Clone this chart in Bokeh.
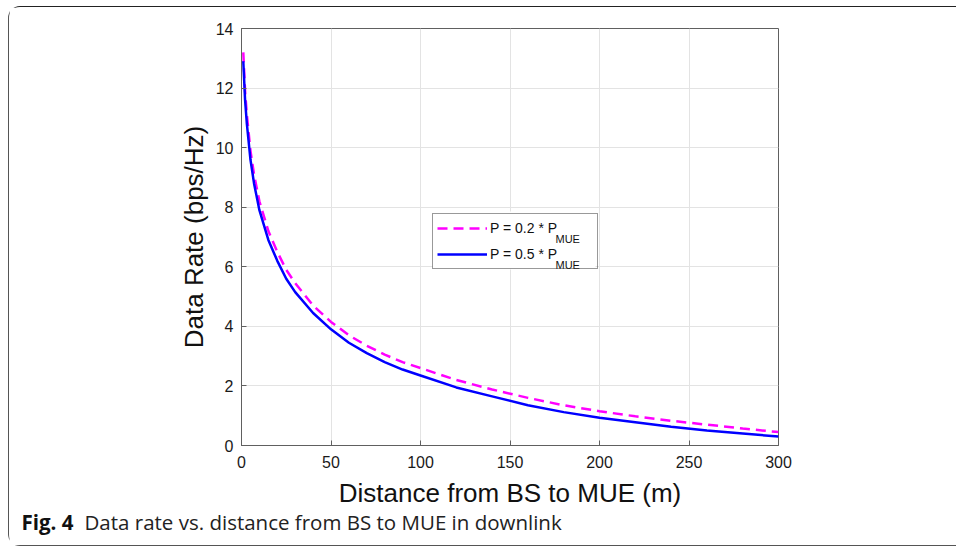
from bokeh.plotting import figure
from bokeh.layouts import column, row
from bokeh.models import (FixedTicker, Range1d, Legend, LegendItem, Label,
                          BoxAnnotation)
from bokeh.embed import file_html
from bokeh.resources import INLINE

# ---- data ----
distance = [1, 2, 3, 5, 7, 10, 15, 20, 25, 30, 40, 50, 60, 70, 80, 90, 100,
            120, 140, 160, 180, 200, 220, 240, 260, 280, 300]
rate_p02 = [13.2, 11.9, 11.1, 9.9, 9.1, 8.2, 7.2, 6.5, 5.9, 5.45, 4.7, 4.15,
            3.7, 3.35, 3.05, 2.8, 2.6, 2.2, 1.88, 1.6, 1.35, 1.15, 0.98,
            0.83, 0.7, 0.57, 0.45]
rate_p05 = [12.9, 11.6, 10.8, 9.6, 8.8, 7.9, 6.9, 6.2, 5.6, 5.15, 4.45, 3.9,
            3.45, 3.1, 2.8, 2.55, 2.35, 1.95, 1.65, 1.35, 1.12, 0.93, 0.78,
            0.63, 0.5, 0.4, 0.3]
x_ticks = [0, 50, 100, 150, 200, 250, 300]
y_ticks = [0, 2, 4, 6, 8, 10, 12, 14]
legend_main = ["P = 0.2 * P", "P = 0.5 * P"]
legend_sub = ["MUE", "MUE"]
x_label = "Distance from BS to MUE (m)"
y_label = "Data Rate (bps/Hz)"
caption_bold = "Fig. 4"
caption_text = "Data rate vs. distance from BS to MUE in downlink"

W = 947
p = figure(width=W, height=470, output_backend="svg", toolbar_location=None,
           x_range=Range1d(0, 300), y_range=Range1d(0, 14),
           min_border_left=232, min_border_top=21,
           min_border_right=178, min_border_bottom=32)

FONT = "Liberation Sans"
for ax, ticks in ((p.xaxis[0], x_ticks), (p.yaxis[0], y_ticks)):
    ax.ticker = FixedTicker(ticks=ticks)
    ax.major_tick_in = 5
    ax.major_tick_out = 0
    ax.minor_tick_line_color = None
    ax.axis_line_color = "#606060"
    ax.major_tick_line_color = "#606060"
    ax.major_label_text_font = FONT
    ax.major_label_text_font_size = "16px"
    ax.major_label_text_color = "#1a1a1a"
    ax.axis_label_text_font = FONT
    ax.axis_label_text_font_size = "26px"
    ax.axis_label_text_font_style = "normal"
    ax.axis_label_text_color = "#111111"

p.yaxis.axis_label = y_label
p.xaxis.major_label_standoff = 10
p.yaxis.major_label_standoff = 8
p.yaxis.axis_label_standoff = 4

p.outline_line_color = "#606060"
p.outline_line_width = 1
p.xgrid.ticker = FixedTicker(ticks=x_ticks)
p.ygrid.ticker = FixedTicker(ticks=y_ticks)
p.grid.grid_line_color = "#e3e3e3"
p.grid.grid_line_width = 1

# white patch behind the (transparent) legend, hides the grid there
p.add_layout(BoxAnnotation(left=191, right=354, bottom=176, top=234,
                           left_units="screen", right_units="screen",
                           bottom_units="screen", top_units="screen",
                           fill_color="white", fill_alpha=1,
                           line_color=None, level="underlay"))

r1 = p.line(distance, rate_p02, line_color="#ff00ff", line_width=2.5,
            line_dash="10 6")
r2 = p.line(distance, rate_p05, line_color="#0000ff", line_width=2.5)

legend = Legend(items=[LegendItem(label=legend_main[0], renderers=[r1]),
                       LegendItem(label=legend_main[1], renderers=[r2])],
                location=(191, 176), margin=0,
                border_line_color="#333333", border_line_width=1,
                padding=4, spacing=6, label_height=20, label_width=103,
                glyph_width=50, glyph_height=20, label_standoff=3,
                label_text_font=FONT, label_text_font_size="14px",
                label_text_color="#111111",
                background_fill_alpha=0)
p.add_layout(legend)

for i, sub in enumerate(legend_sub):
    p.add_layout(Label(x=314, y=207 - 26 * i, x_units="screen", y_units="screen",
                       text=sub, text_font=FONT, text_font_size="11px",
                       text_color="#111111", text_baseline="alphabetic"))

# strip below the plot: x-axis title and figure caption
cap = figure(width=W, height=68, output_backend="svg", toolbar_location=None,
             x_range=Range1d(0, 1), y_range=Range1d(0, 1),
             x_axis_type=None, y_axis_type=None,
             min_border_left=0, min_border_right=0,
             min_border_top=0, min_border_bottom=0)
cap.outline_line_color = None
cap.grid.visible = False
cap.add_layout(Label(x=500.5, y=53, x_units="screen", y_units="screen",
                     text=x_label, text_font=FONT, text_font_size="26px",
                     text_color="#111111", text_align="center",
                     text_baseline="middle"))
cap.add_layout(Label(x=12, y=24, x_units="screen", y_units="screen",
                     text=caption_bold, text_font="Open Sans",
                     text_font_style="bold", text_font_size="20.5px",
                     text_color="#111111", text_baseline="alphabetic"))
cap.add_layout(Label(x=75, y=24, x_units="screen", y_units="screen",
                     text=caption_text, text_font="Open Sans",
                     text_font_size="20.5px", text_color="#222222",
                     text_baseline="alphabetic"))

layout = column(p, row(cap), spacing=0)
layout.styles = {"margin-left": "8px", "margin-top": "6px",
                 "border-left": "1px solid #555555",
                 "border-top": "1px solid #222222",
                 "border-bottom": "1px solid #555555",
                 "border-right": "none",
                 "border-radius": "12px 0 0 12px"}

open("out.html", "w").write(file_html(layout, INLINE))
